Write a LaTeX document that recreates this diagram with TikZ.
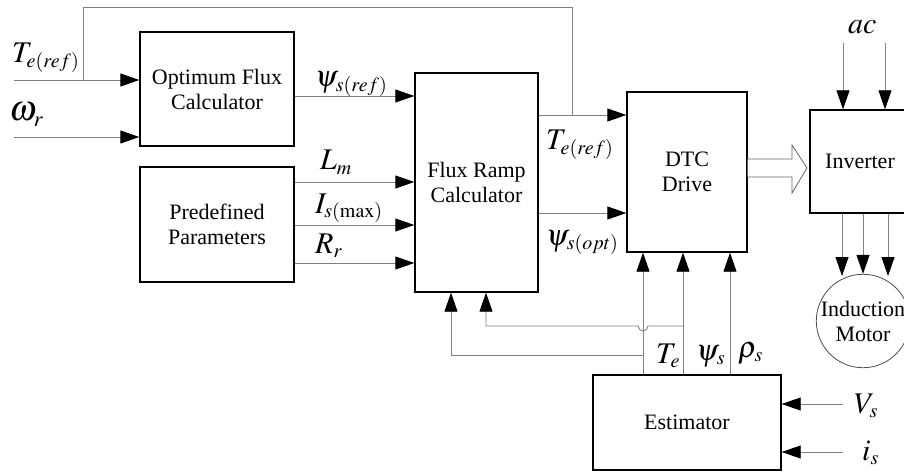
\documentclass[tikz,border=0pt]{standalone}
\usepackage{mathptmx}
\usepackage[no-math]{fontspec}
\setmainfont{Liberation Serif}
\DeclareMathSizes{30}{30}{20}{14}
\DeclareMathSizes{36}{36}{22}{15}
\usetikzlibrary{arrows.meta}
\begin{document}
\begin{tikzpicture}[x=1pt,y=-1pt,
  blk/.style={draw=black,line width=1.4pt,align=center,inner sep=0pt,font=\fontsize{22}{25}\selectfont},
  wire/.style={draw=black!50,line width=0.9pt},
  arr/.style={wire,-{Triangle[length=19pt,width=13pt,color=black]}},
  lbl/.style={font=\fontsize{30}{32}\selectfont,inner sep=0pt,anchor=base west}]
\useasboundingbox (0,0) rectangle (904,473);
\clip (0,0) rectangle (904,473);
% blocks
\node[blk,minimum width=154pt,minimum height=114pt] (ofc) at (217,89) {Optimum Flux\\Calculator};
\node[blk,minimum width=154pt,minimum height=115pt] (pp) at (217,224.5) {Predefined\\Parameters};
\node[blk,minimum width=123pt,minimum height=219pt] (frc) at (476.5,182.5) {Flux Ramp\\Calculator};
\node[blk,minimum width=120pt,minimum height=160pt] (dtc) at (687,172) {DTC\\Drive};
\node[blk,minimum width=100pt,minimum height=103pt] (inv) at (860,161.5) {Inverter};
\node[blk,minimum width=188pt,minimum height=95pt] (est) at (687,422.5) {Estimator};
\node[circle,draw=black!70,line width=0.8pt,minimum size=92pt,inner sep=0pt,align=center,font=\fontsize{22}{25}\selectfont] (mot) at (863,321) {Induction\\Motor};
% inputs to optimum flux calculator
\coordinate (tin) at (14,80);
\coordinate (win) at (14,137);
\draw[arr] (tin) -- (ofc.west |- tin);
\draw[arr] (win) -- (ofc.west |- win);
\draw[wire] (83,80) -- (83,7) -- (572,7) -- (572,115);
% into flux ramp calculator
\draw[arr] (ofc.east |- 0,96) -- (frc.west |- 0,96);
\draw[arr] (pp.east |- 0,182) -- (frc.west |- 0,182);
\draw[arr] (pp.east |- 0,225) -- (frc.west |- 0,225);
\draw[arr] (pp.east |- 0,263) -- (frc.west |- 0,263);
% flux ramp to DTC
\draw[arr] (frc.east |- 0,115) -- (dtc.west |- 0,115);
\draw[arr] (frc.east |- 0,213) -- (dtc.west |- 0,213);
% hollow arrow DTC -> inverter
\draw[draw=black!60,line width=0.8pt,fill=white] (dtc.east |- 0,159) -- (792,159) -- (792,145) -- (807,168) -- (792,193) -- (792,177) -- (dtc.east |- 0,177);
% ac inputs
\draw[arr] (843,43) -- (inv.north -| 843,0);
\draw[arr] (885,43) -- (inv.north -| 885,0);
% inverter to motor
\draw[arr] (inv.south -| 842,0) -- (842,276);
\draw[arr] (inv.south -| mot.north) -- (mot.north);
\draw[arr] (inv.south -| 888,0) -- (888,276);
% estimator to DTC
\draw[arr] (est.north -| 643,0) -- (dtc.south -| 643,0);
\draw[arr] (est.north -| 683,0) -- (dtc.south -| 683,0);
\draw[arr] (est.north -| 730,0) -- (dtc.south -| 730,0);
% feedback to flux ramp calculator
\draw[arr] (643,355) -- (451,355) -- (frc.south -| 451,0);
\draw[arr] (683,326) -- (648,326) arc[start angle=0,end angle=180,radius=5] -- (486,326) -- (frc.south -| 486,0);
% estimator inputs
\draw[arr] (843,404) -- (est.east |- 0,404);
\draw[arr] (843,452) -- (est.east |- 0,452);
% labels
\node[lbl] (l1) at (12,63) {$T_{e(ref)}$};
\node[lbl,font=\fontsize{36}{38}\selectfont] (l2) at (9,121) {$\omega_r$};
\node[lbl] (l3) at (315,87) {$\psi_{s(ref)}$};
\node[lbl] (l4) at (320,170) {$L_m$};
\node[lbl] (l5) at (315,213) {$I_{s(\mathrm{max})}$};
\node[lbl] (l6) at (315,253) {$R_r$};
\node[lbl] (l7) at (546,150) {$T_{e(ref)}$};
\node[lbl] (l8) at (546,245) {$\psi_{s(opt)}$};
\node[lbl] (l9) at (656,363) {$T_e$};
\node[lbl] (l10) at (696,360) {$\psi_s$};
\node[lbl] (l11) at (738,357) {$\rho_s$};
\node[lbl] (l12) at (848,34) {$ac$};
\node[lbl] (l13) at (854,413) {$V_s$};
\node[lbl] (l14) at (862,460) {$i_s$};
\end{tikzpicture}
\end{document}
